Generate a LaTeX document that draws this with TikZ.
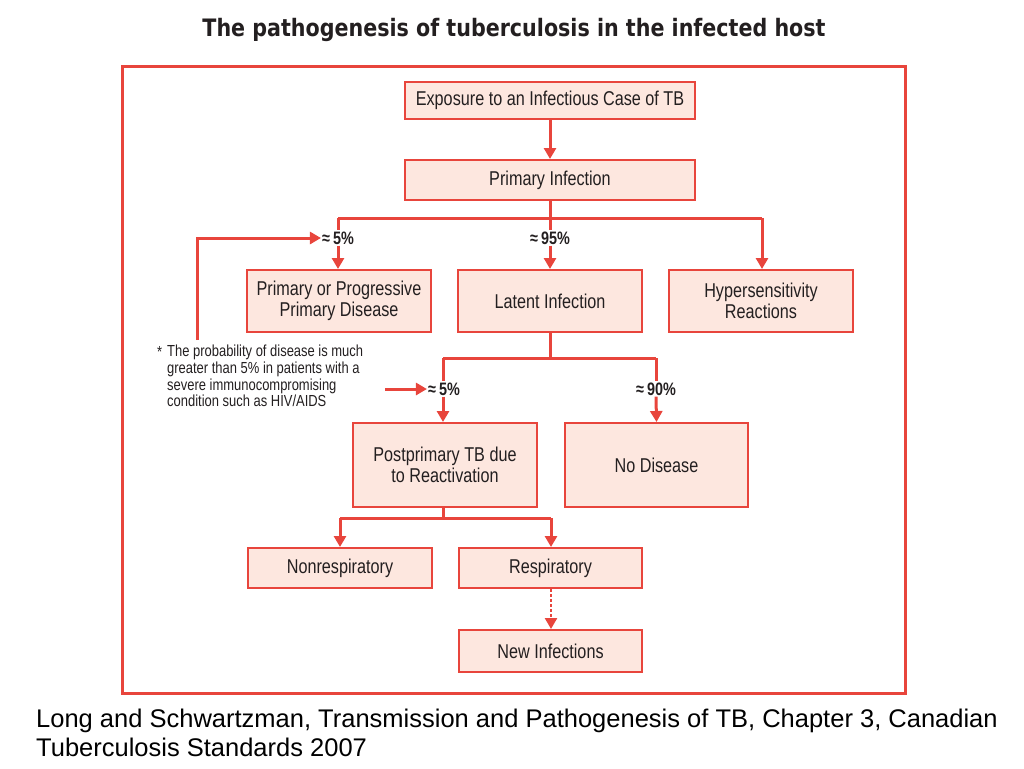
\documentclass[tikz,border=0pt]{standalone}
\usepackage{fontspec}
\usetikzlibrary{arrows.meta}
\setmainfont{Liberation Sans}
\newfontfamily\cond[FakeStretch=0.81]{Liberation Sans}
\newfontfamily\condb[FakeStretch=0.80]{Liberation Sans}
\newfontfamily\titlefont[FakeStretch=0.86]{DejaVu Sans}
\definecolor{tbred}{HTML}{E8453C}
\definecolor{tbfill}{HTML}{FDE7DF}
\definecolor{tbtext}{HTML}{231F20}
\tikzset{
  box/.style={draw=tbred, fill=tbfill, line width=2pt, inner sep=0pt, align=center,
    text=tbtext, font=\cond\fontsize{20}{21}\selectfont},
  link/.style={draw=tbred, line width=3pt},
  arr/.style={link, -{Triangle[length=11pt,width=12pt]}},
  pct/.style={inner sep=1pt, text=tbtext, font=\condb\bfseries\fontsize{18}{19}\selectfont},
  captxt/.style={anchor=base west, inner sep=0pt, text=black, font=\fontsize{25.5}{29}\selectfont},
}
\begin{document}
\begin{tikzpicture}[x=1pt,y=-1pt]
\useasboundingbox (0,0) rectangle (1024,768);
% title
\node[text=tbtext, font=\titlefont\bfseries\fontsize{24}{26}\selectfont] (title) at (514,30) {The pathogenesis of tuberculosis in the infected host};
% frame
\draw[tbred, line width=3pt] (122,66) rectangle (905,693);
% boxes
\node[box, minimum width=290pt, minimum height=37pt] (expo) at (550,100.5) {Exposure to an Infectious Case of TB};
\node[box, minimum width=290pt, minimum height=40pt] (prim) at (550,180) {Primary Infection};
\node[box, minimum width=184pt, minimum height=62pt] (ppd) at (339,301) {Primary or Progressive\\[0pt]Primary Disease};
\node[box, minimum width=184pt, minimum height=62pt] (lat) at (550,301) {Latent Infection};
\node[box, minimum width=184pt, minimum height=62pt] (hyp) at (761,301) {Hypersensitivity\\[0pt]Reactions};
\node[box, minimum width=184pt, minimum height=84pt] (post) at (445,465) {Postprimary TB due\\[0pt]to Reactivation};
\node[box, minimum width=183pt, minimum height=84pt] (nod) at (656.5,465) {No Disease};
\node[box, minimum width=184pt, minimum height=40pt] (nonr) at (340,568) {Nonrespiratory};
\node[box, minimum width=183pt, minimum height=40pt] (resp) at (550.5,568) {Respiratory};
\node[box, minimum width=183pt, minimum height=42pt] (newi) at (550.5,651) {New Infections};
% percentages
\node[pct] (p5a) at (338,238) {≈\,5\%};
\node[pct] (p95) at (550,238) {≈\,95\%};
\node[pct] (p5b) at (444,389) {≈\,5\%};
\node[pct] (p90) at (656,389) {≈\,90\%};
% junction coordinates
\coordinate (j1) at (550,218);
\coordinate (j1l) at (338,218);
\coordinate (j1r) at (762,218);
\coordinate (j2) at (550,358);
\coordinate (j2l) at (443,358);
\coordinate (j2r) at (656,358);
\coordinate (j3) at (443,518);
\coordinate (j3l) at (340,518);
\coordinate (j3r) at (551,518);
\coordinate (fb) at (197,340);
\coordinate (fn) at (385,389);
% connectors
\draw[arr] (expo.south) -- (prim.north);
\draw[link] (prim.south) -- (j1);
\draw[link] (j1l) -- (j1r);
\draw[link] (j1l) -- (p5a.north -| j1l);
\draw[arr] (p5a.south -| j1l) -- (ppd.north -| j1l);
\draw[link] (j1) -- (p95.north);
\draw[arr] (p95.south) -- (lat.north);
\draw[arr] (j1r) -- (hyp.north -| j1r);
\draw[arr] (fb) |- (p5a.west);
\draw[link] (lat.south) -- (j2);
\draw[link] (j2l) -- (j2r);
\draw[link] (j2l) -- (p5b.north -| j2l);
\draw[arr] (p5b.south -| j2l) -- (post.north -| j2l);
\draw[link] (j2r) -- (p90.north);
\draw[arr] (p90.south) -- (nod.north);
\draw[arr] (fn) -- (p5b.west);
\draw[link] (post.south -| j3) -- (j3);
\draw[link] (j3l) -- (j3r);
\draw[arr] (j3l) -- (nonr.north -| j3l);
\draw[arr] (j3r) -- (resp.north -| j3r);
\draw[link, line width=2.5pt, dash pattern=on 3pt off 2pt, -{Triangle[length=11pt,width=12pt]}] (resp.south -| j3r) -- (newi.north -| j3r);
% footnote
\node[anchor=north west, inner sep=0pt, text=tbtext, font=\cond\fontsize{16}{16}\selectfont] (star) at (157,346) {*};
\node[anchor=north west, inner sep=0pt, align=left, text=tbtext, font=\cond\fontsize{16}{16.7}\selectfont] (foot) at (167,345) {The probability of disease is much\\greater than 5\% in patients with a\\severe immunocompromising\\condition such as HIV/AIDS};
% caption
\node[captxt] (cap1) at (36,727) {Long and Schwartzman, Transmission and Pathogenesis of TB, Chapter 3, Canadian};
\node[captxt] (cap2) at (36,756) {Tuberculosis Standards 2007};
\end{tikzpicture}
\end{document}
